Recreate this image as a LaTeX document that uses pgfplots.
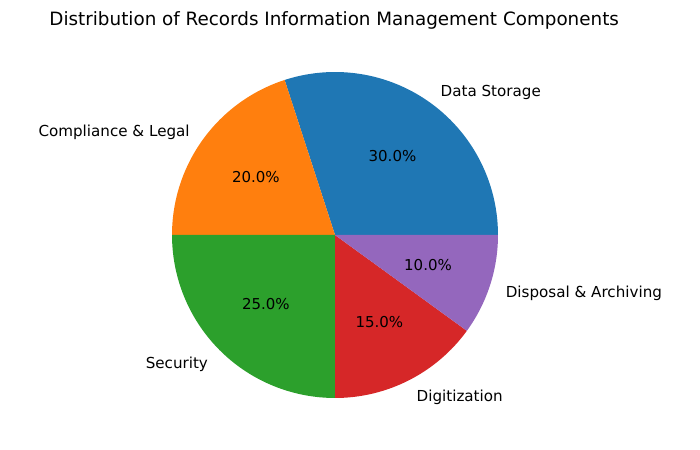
\documentclass[border=0pt]{standalone}
\usepackage{pgfplots}
\usepackage{pgfplotstable}
\pgfplotsset{compat=1.18}
\usepackage{fontspec}
\setmainfont{DejaVu Sans}

\definecolor{tabblue}{HTML}{1F77B4}
\definecolor{taborange}{HTML}{FF7F0E}
\definecolor{tabgreen}{HTML}{2CA02C}
\definecolor{tabred}{HTML}{D62728}
\definecolor{tabpurple}{HTML}{9467BD}

% shares of each component, in per cent
\pgfplotstableread{
value
30
20
25
15
10
}\piedata

\begin{document}
\begin{tikzpicture}
\begin{axis}[
  hide axis,
  x=117.36pt, y=117.36pt,
  xmin=-2.0552, xmax=2.2393,
  ymin=-1.3190, ymax=1.4417,
  clip=false,
]
\pgfplotsextra{
  \gdef\cum{0}
  \foreach \i/\col/\lab in {0/tabblue/Data Storage,
                            1/taborange/Compliance \& Legal,
                            2/tabgreen/Security,
                            3/tabred/Digitization,
                            4/tabpurple/Disposal \& Archiving}{
    \pgfplotstablegetelem{\i}{value}\of\piedata
    \let\val\pgfplotsretval
    \pgfmathsetmacro\start{\cum*3.6}
    \pgfmathsetmacro\stop{(\cum+\val)*3.6}
    \pgfmathsetmacro\mid{(\start+\stop)/2}
    \fill[\col] (axis cs:0,0) -- (axis cs:{cos(\start)},{sin(\start)})
      arc[start angle=\start, end angle=\stop, radius=117.36pt] -- cycle;
    \pgfmathsetmacro\lx{1.1*cos(\mid)}
    \pgfmathsetmacro\ly{1.1*sin(\mid)}
    \ifdim\lx pt>0pt \def\anc{west}\else\def\anc{east}\fi
    \node[anchor=\anc, inner sep=0pt, yshift=-1.8pt, font=\fontsize{10.9}{13}\selectfont]
      at (axis cs:\lx,\ly) {\lab};
    \node[inner sep=0pt, font=\fontsize{10.8}{13}\selectfont]
      at (axis cs:{0.6*cos(\mid)},{0.6*sin(\mid)})
      {\pgfmathprintnumber[fixed,fixed zerofill,precision=1,assume math mode=true]{\val}\%};
    \pgfmathsetmacro\newcum{\cum+\val}
    \xdef\cum{\newcum}
  }
  \node[anchor=base, inner sep=0pt, font=\fontsize{13.2}{16}\selectfont]
    at (axis cs:-0.005,1.285) {Distribution of Records Information Management Components};
}
\end{axis}
\pgfresetboundingbox
\path[use as bounding box] (current axis.south west) rectangle (current axis.north east);
\end{tikzpicture}
\end{document}
